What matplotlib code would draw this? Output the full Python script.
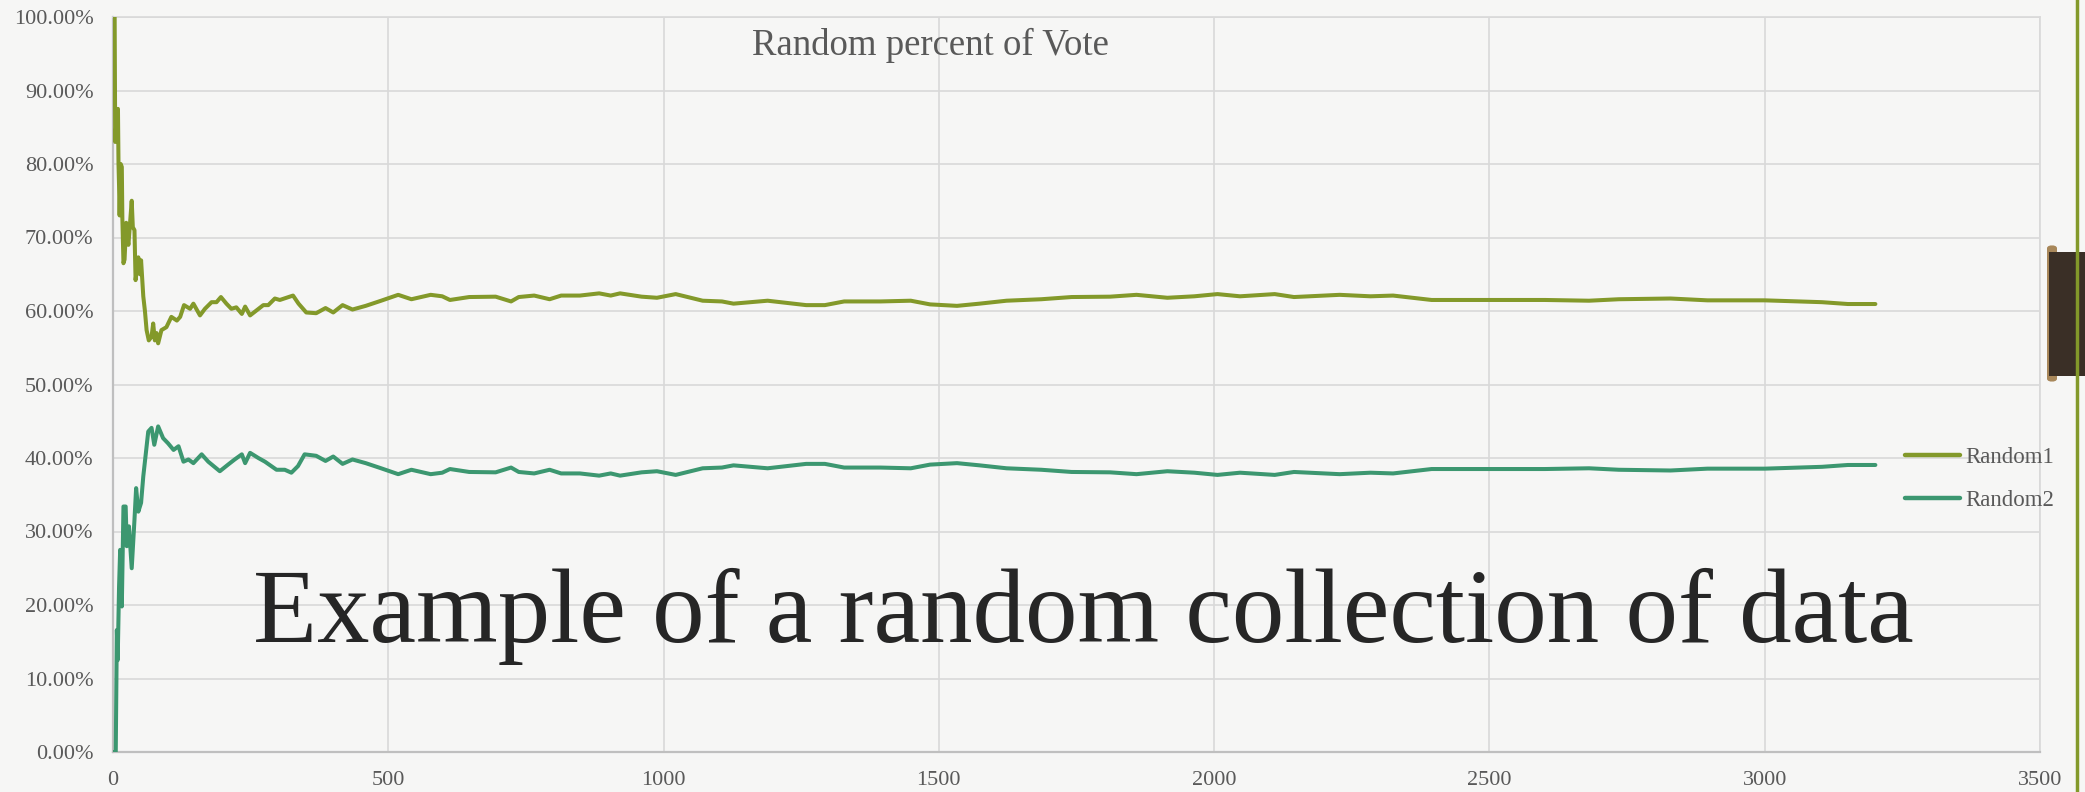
import matplotlib
matplotlib.use("Agg")
import matplotlib.pyplot as plt
from matplotlib.patches import Rectangle, FancyBboxPatch
from matplotlib.lines import Line2D
from matplotlib.ticker import FuncFormatter

# ---------------- data ----------------
r1_x = [1, 3, 4, 7, 9, 10, 11, 12, 14, 16, 17, 19, 21, 24, 26, 28, 31, 34, 36, 39,
        41, 44, 46, 49, 51, 55, 58, 61, 65, 70, 73, 76, 79, 82, 88, 97, 106, 116, 122, 129,
        140, 146, 158, 167, 179, 188, 196, 206, 215, 224, 234, 240, 249, 261, 273, 282, 294, 303, 315, 327,
        337, 351, 369, 386, 400, 417, 435, 459, 487, 518, 542, 577, 598, 612, 647, 695, 723, 737, 765, 793,
        814, 848, 883, 904, 921, 960, 988, 1022, 1071, 1106, 1127, 1189, 1259, 1293, 1328, 1394, 1449, 1484, 1533, 1574,
        1623, 1686, 1741, 1811, 1859, 1915, 1964, 2006, 2047, 2110, 2145, 2228, 2284, 2325, 2395, 2466, 2534, 2601, 2681, 2735,
        2829, 2896, 3000, 3104, 3151, 3201]
r1_pct = [100, 100, 83, 87, 87.5, 80, 77, 73, 80, 79.6, 72.6, 66.5, 67, 72, 70, 69, 72, 75, 71.4, 71,
          64.2, 66, 67.3, 65, 66.9, 62, 60, 57.4, 56, 56.5, 58.3, 56, 57, 55.6, 57.4, 57.8, 59.2, 58.7, 59.2, 60.8,
          60.3, 61, 59.4, 60.3, 61.2, 61.2, 61.9, 61, 60.3, 60.5, 59.6, 60.6, 59.4, 60.1, 60.8, 60.8, 61.7, 61.5, 61.8, 62.1,
          61, 59.8, 59.7, 60.4, 59.8, 60.8, 60.2, 60.7, 61.4, 62.2, 61.6, 62.2, 62, 61.5, 61.9, 61.95, 61.3, 61.9, 62.1, 61.6,
          62.1, 62.1, 62.4, 62.1, 62.4, 61.95, 61.8, 62.3, 61.4, 61.3, 61, 61.4, 60.8, 60.8, 61.3, 61.3, 61.4, 60.9, 60.7, 61,
          61.4, 61.6, 61.9, 61.95, 62.2, 61.8, 62, 62.3, 62, 62.3, 61.9, 62.2, 62, 62.1, 61.5, 61.5, 61.5, 61.5, 61.4, 61.6,
          61.7, 61.45, 61.45, 61.2, 60.95, 60.95]

r2_x = [1, 5, 7, 8.5, 11, 13, 16, 19, 23, 25, 29, 34, 39, 42, 46, 51, 55, 59, 64, 70,
        75, 82, 91, 100, 110, 119, 128, 137, 146, 161, 173, 194, 209, 221, 234, 240, 249, 264, 276, 297,
        312, 324, 336, 348, 369, 386, 400, 417, 435, 459, 487, 518, 542, 577, 598, 612, 647, 695, 723, 737,
        765, 793, 814, 848, 883, 904, 921, 960, 988, 1022, 1071, 1106, 1127, 1189, 1259, 1293, 1328, 1394, 1449, 1484,
        1533, 1574, 1623, 1686, 1741, 1811, 1859, 1915, 1964, 2006, 2047, 2110, 2145, 2228, 2284, 2325, 2395, 2466, 2534, 2601,
        2681, 2735, 2829, 2896, 3000, 3104, 3151, 3201]
r2_pct = [0, 0, 16.6, 12.5, 22.5, 27.5, 19.8, 33.4, 33.4, 28, 30.7, 25, 31.6, 35.9, 32.7, 33.9, 37.5, 40.2, 43.6, 44.1,
          41.8, 44.3, 42.7, 42, 41.1, 41.6, 39.5, 39.8, 39.3, 40.5, 39.5, 38.2, 39.1, 39.8, 40.5, 39.3, 40.7, 40, 39.5, 38.4,
          38.4, 38, 38.9, 40.5, 40.3, 39.6, 40.2, 39.2, 39.8, 39.3, 38.6, 37.8, 38.4, 37.8, 38, 38.5, 38.1, 38.05, 38.7, 38.1,
          37.9, 38.4, 37.9, 37.9, 37.6, 37.9, 37.6, 38.05, 38.2, 37.7, 38.6, 38.7, 39, 38.6, 39.2, 39.2, 38.7, 38.7, 38.6, 39.1,
          39.3, 39, 38.6, 38.4, 38.1, 38.05, 37.8, 38.2, 38, 37.7, 38, 37.7, 38.1, 37.8, 38, 37.9, 38.5, 38.5, 38.5, 38.5,
          38.6, 38.4, 38.3, 38.55, 38.55, 38.8, 39.05, 39.05]

series_names = ["Random1", "Random2"]
title_text = "Random percent of Vote"
overlay_text = "Example of a random collection of data"
x_ticks = [0, 500, 1000, 1500, 2000, 2500, 3000, 3500]
y_ticks = [0, 10, 20, 30, 40, 50, 60, 70, 80, 90, 100]

# ---------------- style ----------------
W, H, DPI = 2085, 792, 100
BG = "#f6f6f5"
C1 = "#83992A"
C2 = "#3C9770"
GRID = "#d9d9d9"
AXIS = "#bfbfbf"
TXT = "#595959"
SERIF = ["Liberation Serif", "DejaVu Serif"]
plt.rcParams["font.family"] = SERIF

fig = plt.figure(figsize=(W / DPI, H / DPI), dpi=DPI, facecolor=BG)
ax = fig.add_axes([113 / W, 1 - 752 / H, (2040 - 113) / W, (752 - 17) / H])
ax.set_facecolor(BG)

ax.plot(r1_x, [v / 100 for v in r1_pct], color=C1, lw=2.9, label=series_names[0],
        solid_joinstyle="round", solid_capstyle="round", zorder=3)
ax.plot(r2_x, [v / 100 for v in r2_pct], color=C2, lw=2.9, label=series_names[1],
        solid_joinstyle="round", solid_capstyle="round", zorder=3)

ax.set_xlim(0, 3500)
ax.set_ylim(0, 1)
ax.set_xticks(x_ticks)
ax.set_yticks([v / 100 for v in y_ticks])
ax.yaxis.set_major_formatter(FuncFormatter(lambda v, p: f"{v * 100:.2f}%"))
ax.grid(True, color=GRID, lw=1.2, zorder=0)
ax.set_axisbelow(True)
for s in ["top", "right"]:
    ax.spines[s].set_color(GRID)
    ax.spines[s].set_linewidth(1.2)
for s in ["left", "bottom"]:
    ax.spines[s].set_color(AXIS)
    ax.spines[s].set_linewidth(1.6)
ax.tick_params(axis="both", length=0, labelsize=16, labelcolor=TXT)
ax.tick_params(axis="y", pad=14)
ax.tick_params(axis="x", pad=14)

leg = ax.legend(loc="upper left", bbox_to_anchor=(1905 / W, 1 - 447 / H),
                bbox_transform=fig.transFigure, frameon=False, fontsize=16.5,
                handlelength=2.4, handletextpad=0.25, labelspacing=0.95,
                borderpad=0, borderaxespad=0)
for t in leg.get_texts():
    t.set_color(TXT)
for l in leg.get_lines():
    l.set_linewidth(3.2)

fig.text(930 / W, 1 - 45 / H, title_text, ha="center", va="center",
         fontsize=26.5, color=TXT)
fig.text(253 / W, 1 - 642 / H, overlay_text, ha="left", va="baseline",
         fontsize=75.5, color="#262626", zorder=5)

# right-edge template decoration
fig.add_artist(Line2D([2077 / W, 2077 / W], [0, 1], transform=fig.transFigure,
                      color=C1, lw=2.5))
fig.add_artist(FancyBboxPatch((2047 / W, 1 - 382 / H), 10 / W, (382 - 245) / H,
                              boxstyle="round,pad=0,rounding_size=0.004",
                              transform=fig.transFigure, facecolor="#a8875a",
                              edgecolor="none"))
fig.add_artist(Rectangle((2049 / W, 1 - 376 / H), (2085 - 2049) / W, (376 - 252) / H,
                         transform=fig.transFigure, facecolor="#3a2f26",
                         edgecolor="none"))

fig.savefig("out.png", dpi=DPI, facecolor=BG)
